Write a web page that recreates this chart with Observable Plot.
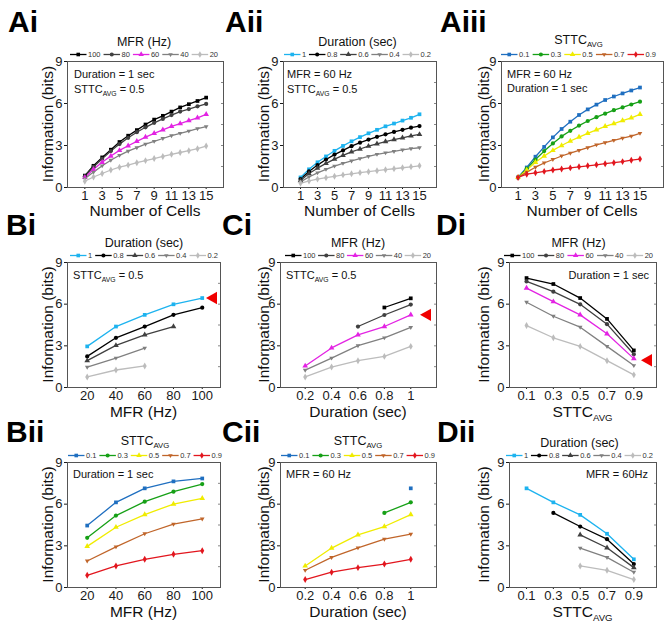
<!DOCTYPE html>
<html><head><meta charset="utf-8">
<script src="https://cdn.jsdelivr.net/npm/d3@7"></script>
<script src="https://cdn.jsdelivr.net/npm/@observablehq/plot@0.6"></script>
<style>
body{margin:0;background:#fff;}
#fig{position:relative;width:669px;height:628px;overflow:hidden;background:#fff;font-family:"Liberation Sans",Arial,sans-serif;}
#fig svg.panel{position:absolute;overflow:visible;}
</style></head><body><div id="fig"></div>
<script>
// ---------------- data ----------------
const cells = [1,2,3,4,5,6,7,8,9,10,11,12,13,14,15];
const mfrX = [20,40,60,80,100];
const durX = [0.2,0.4,0.6,0.8,1];
const sttcX = [0.1,0.3,0.5,0.7,0.9];

const mfrLevels = ["100","80","60","40","20"];
const durLevels = ["1","0.8","0.6","0.4","0.2"];
const sttcLevels = ["0.1","0.3","0.5","0.7","0.9"];

const cellTicks = [1,3,5,7,9,11,13,15];
const yTicks = [0,3,6,9];

// Ai: info vs cells, by MFR (Duration = 1 s, STTC = 0.5)
const aiMfr100 = [0.85,1.55,2.15,2.7,3.25,3.7,4.1,4.5,4.85,5.12,5.42,5.72,5.95,6.18,6.42];
const aiMfr80  = [0.8,1.47,2.05,2.6,3.1,3.55,3.95,4.3,4.62,4.9,5.17,5.42,5.6,5.8,5.97];
const aiMfr60  = [0.72,1.3,1.8,2.25,2.65,2.98,3.3,3.6,3.87,4.12,4.37,4.57,4.78,4.98,5.23];
const aiMfr40  = [0.62,1.1,1.55,1.95,2.3,2.6,2.85,3.1,3.3,3.5,3.7,3.87,4.03,4.2,4.35];
const aiMfr20  = [0.45,0.75,1.0,1.25,1.45,1.6,1.77,1.92,2.07,2.22,2.37,2.5,2.63,2.77,2.96];
// Aii: info vs cells, by duration (MFR = 60 Hz, STTC = 0.5)
const aiiDur1  = [0.72,1.3,1.8,2.22,2.62,2.97,3.3,3.6,3.87,4.12,4.37,4.57,4.78,4.98,5.23];
const aiiDur08 = [0.6,1.15,1.6,2.0,2.35,2.65,2.95,3.2,3.42,3.62,3.8,3.97,4.12,4.27,4.39];
const aiiDur06 = [0.5,1.0,1.38,1.72,2.03,2.3,2.55,2.75,2.95,3.12,3.28,3.42,3.55,3.68,3.79];
const aiiDur04 = [0.4,0.75,1.05,1.3,1.53,1.73,1.9,2.07,2.22,2.37,2.48,2.58,2.68,2.77,2.84];
const aiiDur02 = [0.3,0.47,0.6,0.7,0.8,0.9,0.98,1.06,1.13,1.2,1.27,1.34,1.41,1.48,1.55];
// Aiii: info vs cells, by STTC (MFR = 60 Hz, Duration = 1 s)
const aiiiS01 = [0.72,1.43,2.2,2.9,3.58,4.18,4.7,5.18,5.58,5.92,6.25,6.5,6.72,6.93,7.14];
const aiiiS03 = [0.72,1.35,2.0,2.6,3.15,3.65,4.05,4.42,4.75,5.02,5.27,5.52,5.72,5.93,6.13];
const aiiiS05 = [0.72,1.25,1.8,2.25,2.65,3.0,3.32,3.6,3.87,4.12,4.37,4.57,4.78,4.98,5.23];
const aiiiS07 = [0.72,1.1,1.45,1.75,2.0,2.25,2.45,2.65,2.85,3.05,3.2,3.37,3.52,3.67,3.87];
const aiiiS09 = [0.72,0.95,1.05,1.15,1.25,1.32,1.4,1.48,1.55,1.62,1.7,1.77,1.85,1.95,2.03];

// Bi: info vs MFR, by duration (STTC = 0.5)
const biDur1  = [2.96,4.39,5.23,5.99,6.44];
const biDur08 = [2.24,3.58,4.39,5.23,5.75];
const biDur06 = [1.93,3.03,3.79,4.39,null];
const biDur04 = [1.46,2.12,2.84,null,null];
const biDur02 = [0.76,1.26,1.55,null,null];
// Ci: info vs duration, by MFR (STTC = 0.5)
const ciMfr100 = [null,null,null,5.76,6.42];
const ciMfr80  = [null,null,4.39,5.22,5.97];
const ciMfr60  = [1.55,2.85,3.79,4.39,5.23];
const ciMfr40  = [1.25,2.12,3.01,3.58,4.33];
const ciMfr20  = [0.76,1.47,1.93,2.24,2.96];
// Di: info vs STTC, by MFR (Duration = 1 s)
const diMfr100 = [7.88,7.45,6.44,4.94,2.67];
const diMfr80  = [7.64,6.9,5.99,4.56,2.39];
const diMfr60  = [7.16,6.18,5.23,3.87,2.08];
const diMfr40  = [6.14,5.13,4.34,2.96,1.58];
const diMfr20  = [4.46,3.58,2.96,1.93,0.91];
// Bii: info vs MFR, by STTC (Duration = 1 s)
const biiS01 = [4.46,6.13,7.14,7.64,7.85];
const biiS03 = [3.58,5.18,6.18,6.9,7.45];
const biiS05 = [2.96,4.34,5.25,6.01,6.42];
const biiS07 = [1.91,2.93,3.87,4.56,4.94];
const biiS09 = [0.88,1.55,2.03,2.39,2.65];
// Cii: info vs duration, by STTC (MFR = 60 Hz)
const ciiS01 = [null,null,null,null,7.14];
const ciiS03 = [null,null,null,5.37,6.13];
const ciiS05 = [1.55,2.84,3.79,4.39,5.25];
const ciiS07 = [1.24,2.17,2.86,3.48,3.84];
const ciiS09 = [0.57,1.1,1.43,1.69,2.03];
// Dii: info vs STTC, by duration (MFR = 60 Hz)
const diiDur1  = [7.14,6.13,5.23,3.87,2.03];
const diiDur08 = [null,5.37,4.39,3.48,1.69];
const diiDur06 = [null,null,3.79,2.86,1.43];
const diiDur04 = [null,null,2.84,2.17,1.1];
const diiDur02 = [null,null,1.55,1.24,0.57];

// highlighted (red arrow) values
const biArrow = 6.44, ciArrow = 5.23, diArrow = 1.96;

// ---------------- styles ----------------
const FONT = "'Liberation Sans', Arial, sans-serif";
const triDown = {draw(ctx, size){ const s = Math.sqrt(size)*0.62; ctx.moveTo(-s, -s*0.6); ctx.lineTo(s, -s*0.6); ctx.lineTo(0, s*1.1); ctx.closePath(); }};
const triLeft = {draw(ctx){ ctx.moveTo(-5.5, 0); ctx.lineTo(5.5, -6.2); ctx.lineTo(5.5, 6.2); ctx.closePath(); }};
const symbols5 = [d3.symbolSquare, d3.symbolCircle, d3.symbolTriangle, triDown, d3.symbolDiamond];
const mfrColors  = ["#000000","#404040","#e323e3","#808080","#bcbcbc"];
const durColors  = ["#1db3ef","#000000","#404040","#808080","#bcbcbc"];
const sttcColors = ["#1f6fc0","#16a016","#f0ec00","#c0652a","#e2161e"];

const groups = {
  mfr:  {levels: mfrLevels,  colors: mfrColors,  title: [["MFR (Hz)"]]},
  dur:  {levels: durLevels,  colors: durColors,  title: [["Duration (sec)"]]},
  sttc: {levels: sttcLevels, colors: sttcColors, title: [["STTC"],["AVG", true]]}
};

const sttcLabel = [["STTC"],["AVG", true]];
const panels = [
  {name:"Ai",  lab:[8,32],   frame:[67,223,61,187],  xDomain:[-1,17], xTicks:cellTicks, xs:cells, group:"mfr",
   series:[aiMfr100,aiMfr80,aiMfr60,aiMfr40,aiMfr20], xLabel:[["Number of Cells"]], xlb:215.5,
   insets:[{x:74,y:78,t:[["Duration = 1 sec"]]},{x:74,y:93,t:[["STTC"],["AVG",true],[" = 0.5"]]}]},
  {name:"Aii", lab:[225,32], frame:[283,436,61,187], xDomain:[-1,17], xTicks:cellTicks, xs:cells, group:"dur",
   series:[aiiDur1,aiiDur08,aiiDur06,aiiDur04,aiiDur02], xLabel:[["Number of Cells"]], xlb:215.5,
   insets:[{x:287,y:78,t:[["MFR = 60 Hz"]]},{x:287,y:93,t:[["STTC"],["AVG",true],[" = 0.5"]]}]},
  {name:"Aiii",lab:[440,32], frame:[501,663,61,187], xDomain:[-0.9,17.7], xTicks:cellTicks, xs:cells, group:"sttc",
   series:[aiiiS01,aiiiS03,aiiiS05,aiiiS07,aiiiS09], xLabel:[["Number of Cells"]], xlb:215.5,
   insets:[{x:507,y:78,t:[["MFR = 60 Hz"]]},{x:507,y:92,t:[["Duration = 1 sec"]]}]},
  {name:"Bi",  lab:[6,235],  frame:[67,220,262,387], xDomain:[6.3,112.7], xTicks:mfrX, xs:mfrX, group:"dur",
   series:[biDur1,biDur08,biDur06,biDur04,biDur02], xLabel:[["MFR (Hz)"]], xlb:417, arrow:biArrow, adx:-9,
   insets:[{x:73,y:279,t:[["STTC"],["AVG",true],[" = 0.5"]]}]},
  {name:"Ci",  lab:[222,235],frame:[280,436,262,387], xDomain:[0.013,1.195], xTicks:durX, xs:durX, group:"mfr",
   series:[ciMfr100,ciMfr80,ciMfr60,ciMfr40,ciMfr20], xLabel:[["Duration (sec)"]], xlb:417, arrow:ciArrow, adx:-11,
   insets:[{x:286,y:279,t:[["STTC"],["AVG",true],[" = 0.5"]]}]},
  {name:"Di",  lab:[436,235],frame:[509,656,262,387], xDomain:[-0.027,1.069], xTicks:sttcX, xs:sttcX, group:"mfr",
   series:[diMfr100,diMfr80,diMfr60,diMfr40,diMfr20], xLabel:sttcLabel, xlb:417, arrow:diArrow, adx:-10,
   insets:[{x:649,y:279,t:[["Duration = 1 sec"]],anchor:"end"}]},
  {name:"Bii", lab:[6,442],  frame:[67,220,462,587], xDomain:[6.3,112.7], xTicks:mfrX, xs:mfrX, group:"sttc",
   series:[biiS01,biiS03,biiS05,biiS07,biiS09], xLabel:[["MFR (Hz)"]], xlb:616.5,
   insets:[{x:73,y:478,t:[["Duration = 1 sec"]]}]},
  {name:"Cii", lab:[222,442],frame:[280,436,462,587], xDomain:[0.013,1.195], xTicks:durX, xs:durX, group:"sttc",
   series:[ciiS01,ciiS03,ciiS05,ciiS07,ciiS09], xLabel:[["Duration (sec)"]], xlb:616.5,
   insets:[{x:286,y:478,t:[["MFR = 60 Hz"]]}]},
  {name:"Dii", lab:[437,442],frame:[509,656,462,587], xDomain:[-0.027,1.069], xTicks:sttcX, xs:sttcX, group:"dur",
   series:[diiDur1,diiDur08,diiDur06,diiDur04,diiDur02], xLabel:sttcLabel, xlb:616.5,
   insets:[{x:648,y:478,t:[["MFR = 60Hz"]],anchor:"end"}]}
];
const yLabelX = [53, 268.5, 488.5];

// ---------------- build ----------------
const fig = document.getElementById("fig");
const mL = 40, mR = 12, mT = 6, mB = 26;

panels.forEach(p => {
  const [l, r, t, b] = p.frame;
  const g = groups[p.group];
  const rows = [];
  p.series.forEach((arr, i) => arr.forEach((v, j) => {
    if (v != null) rows.push({x: p.xs[j], y: v, lvl: g.levels[i]});
  }));
  const marks = [
    Plot.axisY({ticks: yTicks, tickSize: 3, tickPadding: 2, fontSize: 13, label: null, color: "#1a1a1a"}),
    Plot.axisY({anchor: "right", ticks: [1.5,3,4.5,6,7.5], tickSize: -3, tickFormat: () => "", label: null, stroke: "#888"}),
    Plot.axisX({ticks: p.xTicks, tickSize: 2, tickPadding: 1, fontSize: 13, label: null, color: "#1a1a1a",
                tickFormat: d => String(d)}),
    Plot.frame({stroke: "#555", strokeWidth: 1}),
    Plot.line(rows, {x: "x", y: "y", z: "lvl", stroke: "lvl", strokeWidth: 1.3}),
    Plot.dot(rows, {x: "x", y: "y", fill: "lvl", symbol: "lvl", r: 2.1})
  ];
  if (p.arrow != null) {
    marks.push(Plot.dot([p.arrow], {y: d => d, frameAnchor: "right", dx: p.adx, symbol: triLeft, fill: "#f00000", stroke: "none"}));
  }
  const svg = Plot.plot({
    width: (r - l) + mL + mR, height: (b - t) + mT + mB,
    marginLeft: mL, marginRight: mR, marginTop: mT, marginBottom: mB,
    x: {domain: p.xDomain},
    y: {domain: [0, 9]},
    color: {domain: g.levels, range: g.colors},
    symbol: {domain: g.levels, range: symbols5},
    style: {fontFamily: FONT, background: "transparent", overflow: "visible"},
    marks
  });
  svg.classList.add("panel");
  svg.style.left = (l - mL) + "px";
  svg.style.top = (t - mT) + "px";
  fig.appendChild(svg);
});

// ---------------- annotations ----------------
const ov = d3.select(fig).append("svg")
  .attr("width", 669).attr("height", 628)
  .style("position", "absolute").style("left", "0px").style("top", "0px")
  .style("font-family", FONT).style("pointer-events", "none");

function rich(sel, parts, size, subDy = 0.28) {
  let sub = false;
  parts.forEach(([s, isSub]) => {
    const ts = sel.append("tspan").text(s);
    if (isSub && !sub) { ts.attr("font-size", size * 0.62).attr("dy", size * subDy); sub = true; }
    else if (!isSub && sub) { ts.attr("font-size", size).attr("dy", -size * subDy); sub = false; }
    else if (isSub) ts.attr("font-size", size * 0.62);
  });
  return sel;
}
function text(x, y, parts, size, opts = {}) {
  const t = ov.append("text").attr("x", x).attr("y", y).attr("font-size", size)
    .attr("fill", opts.fill || "#111").attr("text-anchor", opts.anchor || "start")
    .attr("font-weight", opts.weight || "normal");
  if (opts.rotate) t.attr("x", 0).attr("y", 0).attr("transform", `translate(${x},${y}) rotate(-90)`);
  return rich(t, parts, size, opts.subDy);
}

function legend(x0, x1, y, g) {
  const sw = 16.5, pad = 1.5;
  const items = g.levels.map((lab, i) => {
    const t = ov.append("text").text(lab).attr("font-size", 7.5).attr("fill", "#333").attr("y", y + 2.7);
    return {t, w: t.node().getComputedTextLength()};
  });
  const total = items.reduce((a, it) => a + sw + pad + it.w, 0);
  const gap = (x1 - x0 - total) / (items.length - 1);
  let x = x0;
  items.forEach((it, i) => {
    ov.append("line").attr("x1", x).attr("x2", x + sw).attr("y1", y).attr("y2", y)
      .attr("stroke", g.colors[i]).attr("stroke-width", 1.3);
    ov.append("path").attr("d", d3.symbol(symbols5[i], 13)())
      .attr("transform", `translate(${x + sw / 2},${y})`).attr("fill", g.colors[i]);
    it.t.attr("x", x + sw + pad);
    x += sw + pad + it.w + gap;
  });
}

const legendSpans = {
  Ai:[70,218], Aii:[284,431], Aiii:[501,656], Bi:[70,218], Ci:[285,431], Di:[504,653],
  Bii:[68,222], Cii:[281,435], Dii:[506,653]
};

panels.forEach((p, k) => {
  const [l, r, t, b] = p.frame;
  const g = groups[p.group];
  const [lx0, lx1] = legendSpans[p.name];
  text(p.lab[0], p.lab[1], [[p.name]], 30, {weight: "bold", fill: "#000"});
  text((lx0 + lx1) / 2, p.group === "sttc" ? t - 17 : t - 15.5, g.title, 12.5, {anchor: "middle", subDy: 0.2});
  legend(lx0, lx1, t - 6.5, g);
  p.insets.forEach(s => text(s.x, s.y, s.t, 11, {anchor: s.anchor || "start"}));
  text((l + r) / 2, p.xlb, p.xLabel, 15.5, {anchor: "middle"});
  text(yLabelX[k % 3], (t + b) / 2, [["Information (bits)"]], 15.5, {anchor: "middle", rotate: true});
});
</script></body></html>
